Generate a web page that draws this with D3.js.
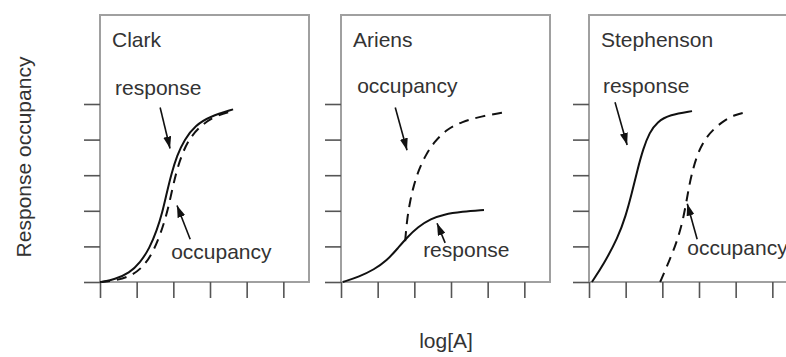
<!DOCTYPE html>
<html>
<head>
<meta charset="utf-8">
<script src="https://cdn.jsdelivr.net/npm/d3@7"></script>
<style>
  body { margin: 0; background: #fff; }
  svg { font-family: "Liberation Sans", Arial, sans-serif; }
</style>
</head>
<body>
<svg id="svg" width="786" height="357"></svg>
<script>
// panels and curves: [log[A], fraction]
const panels = ["Clark", "Ariens", "Stephenson"]

const clarkResponse = [[0.05,0],[0.4,0.015],[0.8,0.05],[1.1,0.11],[1.35,0.19],[1.55,0.29],[1.7,0.39],[1.82,0.5],[1.95,0.61],[2.1,0.71],[2.3,0.8],[2.6,0.88],[3.0,0.93],[3.63,0.97]]
const clarkOccupancy = [[0,0],[0.5,0.01],[0.9,0.04],[1.2,0.09],[1.45,0.17],[1.65,0.27],[1.82,0.38],[1.95,0.5],[2.07,0.61],[2.22,0.71],[2.42,0.8],[2.7,0.87],[3.1,0.93],[3.6,0.96]]

const ariensResponse = [[0.05,0],[0.5,0.03],[0.9,0.07],[1.25,0.12],[1.55,0.19],[1.8,0.25],[2.1,0.31],[2.45,0.355],[2.8,0.38],[3.3,0.395],[3.9,0.405]]
const ariensOccupancy = [[1.75,0.23],[1.8,0.35],[1.88,0.45],[1.98,0.54],[2.12,0.63],[2.3,0.71],[2.55,0.79],[2.9,0.86],[3.3,0.9],[3.8,0.93],[4.5,0.955]]

const stephensonResponse = [[0.08,0],[0.4,0.1],[0.79,0.25],[1.0,0.37],[1.17,0.5],[1.32,0.63],[1.48,0.75],[1.65,0.84],[1.86,0.9],[2.2,0.94],[2.81,0.96]]
const stephensonOccupancy = [[1.94,0],[2.15,0.1],[2.35,0.2],[2.52,0.31],[2.64,0.43],[2.73,0.54],[2.83,0.63],[2.96,0.72],[3.15,0.8],[3.4,0.86],[3.7,0.91],[4.0,0.94],[4.2,0.95]]

const xTicks = [0, 1, 2, 3, 4, 5]
const yTicks = [0, 0.2, 0.4, 0.6, 0.8, 1.0]

// annotation: label, text anchor point, arrow from -> to (data units)
const annotations = {
  Clark: [
    {label: "response", at: [0.41, 1.05], from: [1.64, 0.98], to: [1.91, 0.75]},
    {label: "occupancy", at: [1.94, 0.13], from: [2.46, 0.24], to: [2.10, 0.43]}
  ],
  Ariens: [
    {label: "occupancy", at: [0.44, 1.06], from: [1.48, 0.98], to: [1.80, 0.74]},
    {label: "response", at: [2.24, 0.14], from: [2.84, 0.22], to: [2.62, 0.33]}
  ],
  Stephenson: [
    {label: "response", at: [0.38, 1.06], from: [0.71, 1.01], to: [1.04, 0.77]},
    {label: "occupancy", at: [2.68, 0.15], from: [2.95, 0.24], to: [2.68, 0.44]}
  ]
}

const curves = {
  Clark: {response: clarkResponse, occupancy: clarkOccupancy},
  Ariens: {response: ariensResponse, occupancy: ariensOccupancy},
  Stephenson: {response: stephensonResponse, occupancy: stephensonOccupancy}
}

const svg = d3.select("#svg")
const marginTop = 15, pw = 209, ph = 267

const panelX = d3.scaleOrdinal().domain(panels).range([100, 341, 589])
const x = d3.scaleLinear().domain([0, 5.7]).range([0, pw])
const y = d3.scaleLinear().domain([0, 1.5]).range([ph, 0])

const line = d3.line()
    .x(d => x(d[0]))
    .y(d => y(d[1]))
    .curve(d3.curveBasis)

svg.append("defs").append("marker")
    .attr("id", "head")
    .attr("markerUnits", "userSpaceOnUse")
    .attr("viewBox", "0 -4 12 8")
    .attr("refX", 12)
    .attr("markerWidth", 12)
    .attr("markerHeight", 8)
    .attr("orient", "auto")
  .append("path")
    .attr("d", "M0,-4L12,0L0,4Z")
    .attr("fill", "#111")

panels.forEach(name => {
  const g = svg.append("g").attr("transform", `translate(${panelX(name)},${marginTop})`)

  g.append("rect")
      .attr("width", pw).attr("height", ph)
      .attr("fill", "none")
      .attr("stroke", "#a0a0a0")
      .attr("stroke-width", 2)

  const ax = g.append("g").attr("transform", `translate(0,${ph})`)
      .call(d3.axisBottom(x).tickValues(xTicks).tickSize(16).tickFormat(""))
  const ay = g.append("g")
      .call(d3.axisLeft(y).tickValues(yTicks).tickSize(16).tickFormat(""))
  ax.select(".domain").remove()
  ay.select(".domain").remove()
  g.selectAll(".tick line").attr("stroke", "#555").attr("stroke-width", 1.6)

  g.append("text")
      .attr("x", 12).attr("y", 32)
      .attr("font-size", 21)
      .attr("fill", "#333")
      .text(name)

  g.append("path")
      .datum(curves[name].response)
      .attr("d", line)
      .attr("fill", "none")
      .attr("stroke", "#111")
      .attr("stroke-width", 2)

  g.append("path")
      .datum(curves[name].occupancy)
      .attr("d", line)
      .attr("fill", "none")
      .attr("stroke", "#111")
      .attr("stroke-width", 2)
      .attr("stroke-dasharray", "10,7")

  annotations[name].forEach(a => {
    g.append("text")
        .attr("x", x(a.at[0])).attr("y", y(a.at[1]))
        .attr("font-size", 21)
        .attr("fill", "#333")
        .text(a.label)
    g.append("line")
        .attr("x1", x(a.from[0])).attr("y1", y(a.from[1]))
        .attr("x2", x(a.to[0])).attr("y2", y(a.to[1]))
        .attr("stroke", "#111")
        .attr("stroke-width", 1.6)
        .attr("marker-end", "url(#head)")
  })
})

svg.append("text")
    .attr("transform", `translate(31,157) rotate(-90)`)
    .attr("text-anchor", "middle")
    .attr("font-size", 21)
    .attr("fill", "#333")
    .text("Response occupancy")

svg.append("text")
    .attr("x", 446).attr("y", 348)
    .attr("text-anchor", "middle")
    .attr("font-size", 21)
    .attr("fill", "#333")
    .text("log[A]")
</script>
</body>
</html>
